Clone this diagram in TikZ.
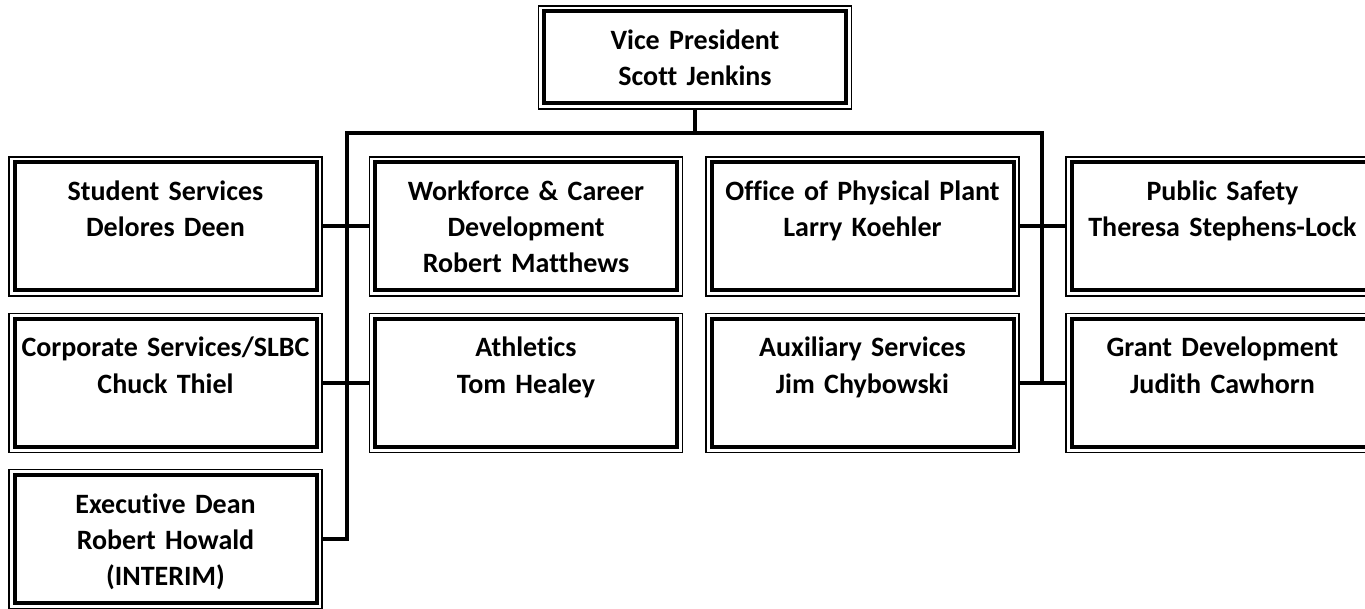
\documentclass[tikz,border=0pt]{standalone}
\usepackage{fontspec}
\setmainfont{Carlito}[Ligatures=CommonOff]
\usetikzlibrary{calc,positioning}

\tikzset{
  unit/.style={draw,line width=2pt,fill=white,inner sep=0pt,outer sep=3.25pt,
    text width=151pt,align=center,text height=19pt,text depth=45pt,
    font=\bfseries\fontsize{14}{18}\selectfont,
    append after command={\pgfextra{\draw[line width=0.75pt]
      ([shift={(0.5pt,-0.5pt)}]\tikzlastnode.north west) rectangle
      ([shift={(-0.5pt,0.5pt)}]\tikzlastnode.south east);}}},
  headunit/.style={unit,text depth=27pt},
  bus/.style={line width=2pt,line join=miter}
}

\begin{document}
\begin{tikzpicture}[x=0.5pt,y=-0.5pt]
  \useasboundingbox (0,0) rectangle (1365,609);
  \clip (0,0) rectangle (1365,609);
  % head
  \node[headunit] (vp) at (695,57.5) {Vice President\\Scott Jenkins};
  % left half
  \node[unit] (ss) at (165.5,226.5) {Student Services\\Delores Deen};
  \node[unit] (cs) at (165.5,383) {Corporate Services/SLBC\\Chuck Thiel};
  \node[unit] (ed) at (165.5,539) {Executive Dean\\Robert Howald\\(INTERIM)};
  \node[unit] (wf) at (526,226.5) {Workforce \& Career\\Development\\Robert Matthews};
  \node[unit] (at) at (526,383) {Athletics\\Tom Healey};
  % right half
  \node[unit] (pp) at (862.5,226.5) {Office of Physical Plant\\Larry Koehler};
  \node[unit] (ax) at (862.5,383) {Auxiliary Services\\Jim Chybowski};
  \node[unit] (ps) at (1222.5,226.5) {Public Safety\\Theresa Stephens-Lock};
  \node[unit] (gd) at (1222.5,383) {Grant Development\\Judith Cawhorn};
  % bus lines
  \coordinate (busL) at (347,133);
  \coordinate (busR) at (1042,133);
  \draw[bus] (vp.south) -- (vp.south |- busL);
  \draw[bus] (ed.east) -| (busL) -- (busR) -- (busR |- ax.east);
  \draw[bus] (ss.east) -- (wf.west);
  \draw[bus] (cs.east) -- (at.west);
  \draw[bus] (pp.east) -- (ps.west);
  \draw[bus] (ax.east) -- (gd.west);
\end{tikzpicture}
\end{document}
